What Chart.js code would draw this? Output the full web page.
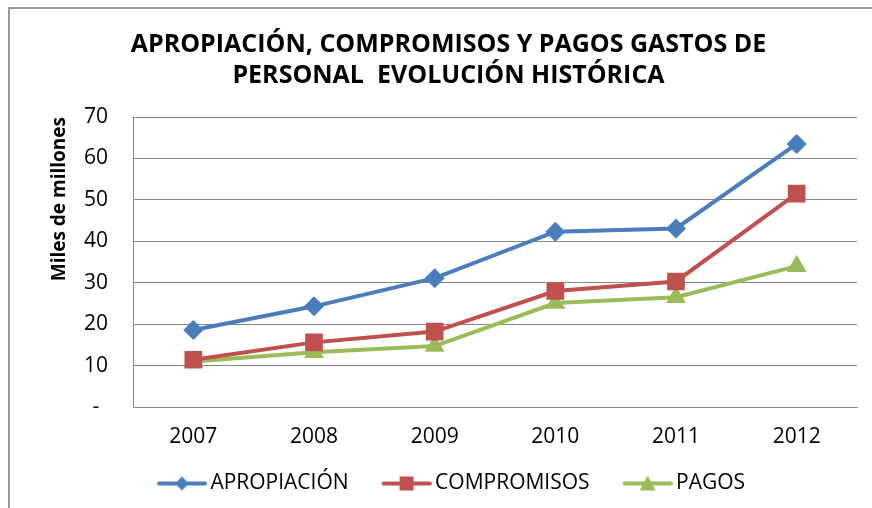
<!DOCTYPE html>
<html>
<head>
<meta charset="utf-8">
<script src="https://cdn.jsdelivr.net/npm/chart.js@4"></script>
<style>
  body { margin: 0; background: #fff; }
  #wrap { position: relative; width: 872px; height: 508px; }
</style>
</head>
<body>
<div id="wrap"><canvas id="chart" width="872" height="508"></canvas></div>
<script>
// data (miles de millones)
const years = ["2007", "2008", "2009", "2010", "2011", "2012"];
const apropiacion = [18.6, 24.3, 31.1, 42.3, 43.1, 63.5];
const compromisos = [11.4, 15.6, 18.2, 28.0, 30.3, 51.5];
const pagos = [11.0, 13.2, 14.7, 25.1, 26.5, 34.0];
const titleLines = ["APROPIACIÓN, COMPROMISOS Y PAGOS GASTOS DE", "PERSONAL  EVOLUCIÓN HISTÓRICA"];

const FONT = "'Open Sans', Lato, sans-serif";
const BLUE = "#4A7EBB", RED = "#C0504D", GREEN = "#9BBB59";

// line+marker picture for legend entries; the line sits right of centre
// so it ends just before the label text
function legendIcon(color, style) {
  const c = document.createElement("canvas");
  c.width = 62; c.height = 20;
  const ctx = c.getContext("2d");
  ctx.strokeStyle = color;
  ctx.lineWidth = 4;
  ctx.lineCap = "round";
  ctx.beginPath(); ctx.moveTo(14, 10); ctx.lineTo(60, 10); ctx.stroke();
  ctx.fillStyle = color;
  ctx.beginPath();
  const m = 37;
  if (style === "diamond") {
    ctx.moveTo(m, 3); ctx.lineTo(m + 7, 10); ctx.lineTo(m, 17); ctx.lineTo(m - 7, 10);
  } else if (style === "square") {
    ctx.rect(m - 7, 3, 14, 14);
  } else {
    ctx.moveTo(m, 2); ctx.lineTo(m + 8, 17); ctx.lineTo(m - 8, 17);
  }
  ctx.closePath(); ctx.fill();
  return c;
}

const icons = [legendIcon(BLUE, "diamond"), legendIcon(RED, "square"), legendIcon(GREEN, "triangle")];

const frame = {
  id: "frame",
  beforeDraw(chart) {
    const ctx = chart.ctx;
    ctx.save();
    ctx.strokeStyle = "#9a9a9a";
    ctx.lineWidth = 2;
    ctx.beginPath();
    ctx.moveTo(9, 520); ctx.lineTo(9, 8); ctx.lineTo(880, 8);
    ctx.stroke();
    ctx.restore();
  }
};

new Chart(document.getElementById("chart"), {
  type: "line",
  data: {
    labels: years,
    datasets: [
      { label: "APROPIACIÓN", data: apropiacion, borderColor: BLUE, backgroundColor: BLUE,
        pointStyle: "rectRot", pointRadius: 10, pointHoverRadius: 10 },
      { label: "COMPROMISOS", data: compromisos, borderColor: RED, backgroundColor: RED,
        pointStyle: "rect", pointRadius: 12.5, pointHoverRadius: 12.5 },
      { label: "PAGOS", data: pagos, borderColor: GREEN, backgroundColor: GREEN,
        pointStyle: "triangle", pointRadius: 11.5, pointHoverRadius: 11.5 }
    ]
  },
  options: {
    responsive: false,
    animation: false,
    devicePixelRatio: 1,
    elements: { line: { borderWidth: 4, tension: 0 }, point: { borderWidth: 0 } },
    layout: { padding: { left: 40, right: 15, top: 8, bottom: 4 } },
    plugins: {
      title: {
        display: true,
        text: titleLines,
        color: "#000",
        font: { family: FONT, size: 25, weight: "bold", lineHeight: 1.24 },
        padding: { top: 21, bottom: 26 }
      },
      legend: {
        position: "bottom",
        labels: {
          color: "#000",
          font: { family: FONT, size: 21 },
          usePointStyle: true,
          pointStyleWidth: 48,
          boxHeight: 12,
          padding: 28,
          generateLabels(chart) {
            return chart.data.datasets.map((ds, i) => ({
              text: ds.label,
              pointStyle: icons[i],
              fillStyle: ds.borderColor,
              strokeStyle: ds.borderColor,
              lineWidth: 0,
              datasetIndex: i,
              hidden: false
            }));
          }
        }
      },
      tooltip: { enabled: false }
    },
    scales: {
      x: {
        offset: true,
        grid: { display: false, drawTicks: false },
        border: { color: "#868686", width: 1 },
        ticks: { color: "#000", font: { family: FONT, size: 21 }, padding: 17 },
        afterFit(scale) { scale.height = 38; }
      },
      y: {
        min: 0, max: 70,
        grid: { color: "#868686", drawTicks: false },
        border: { color: "#868686", width: 1 },
        ticks: {
          stepSize: 10,
          color: "#000",
          crossAlign: "center",
          padding: 25,
          font: { family: FONT, size: 21 },
          callback: v => v === 0 ? "-" : v
        },
        title: {
          display: true,
          text: "Miles de millones",
          align: "end",
          color: "#000",
          font: { family: FONT, size: 19, weight: "bold" },
          padding: { top: 8, bottom: 0 }
        },
        afterFit(scale) { scale.width = 93; }
      }
    }
  },
  plugins: [frame]
});
</script>
</body>
</html>
